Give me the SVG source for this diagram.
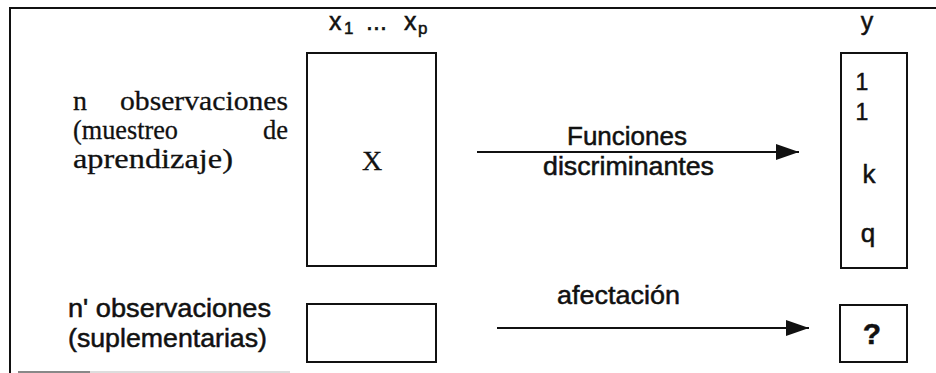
<svg xmlns="http://www.w3.org/2000/svg" width="936" height="373" viewBox="0 0 936 373">
<defs>
<style>
.box{fill:none;stroke:#111;stroke-width:2}
.frame{fill:none;stroke:#111;stroke-width:2}
.conn{fill:none;stroke:#111;stroke-width:2}
.sans{font-family:"Liberation Sans",Arial,sans-serif;fill:#111;stroke:#111;stroke-width:0.5}
.serif{font-family:"Liberation Serif","Times New Roman",serif;fill:#111;stroke:#111;stroke-width:0.3}
</style>
<marker id="ah" markerUnits="userSpaceOnUse" markerWidth="24" markerHeight="18" refX="23" refY="9" orient="auto">
<path d="M0,1 L23,9 L0,17 Z" fill="#111"/>
</marker>
</defs>
<rect width="936" height="373" fill="#fff"/>
<g id="frame">
<path class="frame" d="M936,8 L10,8 L10,373"/>
<line x1="18" y1="372" x2="90" y2="372" stroke="#888" stroke-width="2"/>
<line x1="90" y1="372" x2="290" y2="372" stroke="#ddd" stroke-width="2"/>
</g>
<g id="labels-left">
<text class="serif" font-size="28" x="73" y="110">n</text>
<text class="serif" font-size="28" x="120" y="110" textLength="168" lengthAdjust="spacingAndGlyphs">observaciones</text>
<text class="serif" font-size="28" x="73" y="139" textLength="105" lengthAdjust="spacingAndGlyphs">(muestreo</text>
<text class="serif" font-size="28" x="263" y="139" textLength="25" lengthAdjust="spacingAndGlyphs">de</text>
<text class="serif" font-size="28" x="73" y="168" textLength="160" lengthAdjust="spacingAndGlyphs">aprendizaje)</text>
<text class="sans" font-size="25" x="68" y="317" textLength="203" lengthAdjust="spacingAndGlyphs">n' observaciones</text>
<text class="sans" font-size="25" x="68" y="347" textLength="199" lengthAdjust="spacingAndGlyphs">(suplementarias)</text>
</g>
<g id="node-X">
<text class="sans" font-size="25" x="329" y="30">x</text>
<text class="sans" font-size="17" x="344" y="34">1</text>
<text class="sans" font-size="25" x="366" y="30">...</text>
<text class="sans" font-size="25" x="404" y="30">x</text>
<text class="sans" font-size="17" x="418" y="34">p</text>
<rect class="box" x="307" y="53" width="129" height="213"/>
<text class="serif" font-size="28" x="372" y="170" text-anchor="middle">X</text>
</g>
<g id="node-supp">
<rect class="box" x="307" y="304" width="129" height="58"/>
</g>
<g id="node-y">
<text class="sans" font-size="25" x="867" y="30" text-anchor="middle">y</text>
<rect class="box" x="841" y="53" width="66" height="215"/>
<text class="sans" font-size="23" x="862" y="90" text-anchor="middle">1</text>
<text class="sans" font-size="23" x="862" y="120" text-anchor="middle">1</text>
<text class="sans" font-size="26" x="869" y="183" text-anchor="middle">k</text>
<text class="sans" font-size="26" x="868" y="242" text-anchor="middle">q</text>
</g>
<g id="node-q">
<rect class="box" x="840" y="305" width="67" height="57"/>
<text class="sans" font-size="30" font-weight="bold" x="872" y="344" text-anchor="middle">?</text>
</g>
<g id="connectors">
<line class="conn" x1="477" y1="152" x2="799" y2="152" marker-end="url(#ah)"/>
<line class="conn" x1="497" y1="328" x2="809" y2="328" marker-end="url(#ah)"/>
<text class="sans" font-size="25" x="567" y="145" textLength="120" lengthAdjust="spacingAndGlyphs">Funciones</text>
<text class="sans" font-size="25" x="543" y="175" textLength="171" lengthAdjust="spacingAndGlyphs">discriminantes</text>
<text class="sans" font-size="25" x="557" y="304" textLength="123" lengthAdjust="spacingAndGlyphs">afectación</text>
</g>
</svg>
